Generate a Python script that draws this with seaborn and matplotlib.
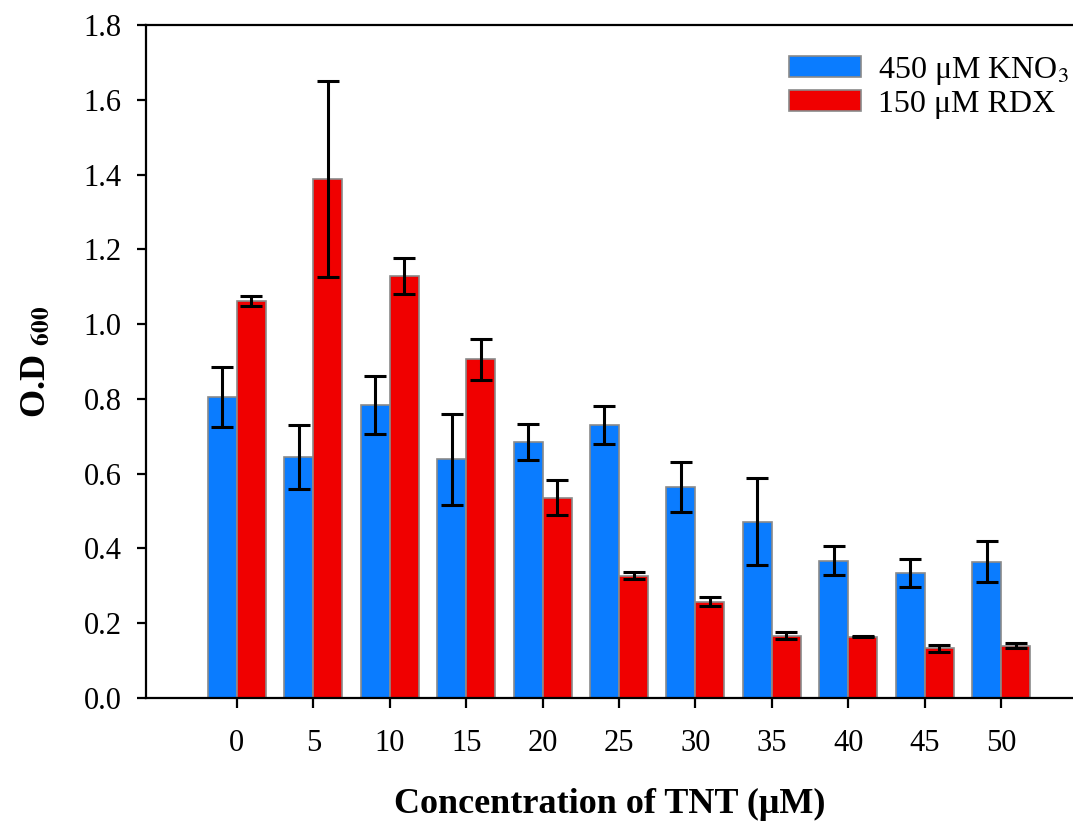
import pandas as pd
import matplotlib.pyplot as plt
import seaborn as sns

# --- data ---
tnt_conc = ["0", "5", "10", "15", "20", "25", "30", "35", "40", "45", "50"]
kno3_od = [0.806, 0.645, 0.783, 0.638, 0.684, 0.730, 0.565, 0.472, 0.367, 0.335, 0.365]
kno3_err = [0.080, 0.086, 0.077, 0.122, 0.048, 0.051, 0.067, 0.116, 0.039, 0.037, 0.056]
rdx_od = [1.062, 1.387, 1.129, 0.906, 0.536, 0.327, 0.258, 0.167, 0.164, 0.133, 0.140]
rdx_err = [0.013, 0.262, 0.048, 0.055, 0.047, 0.010, 0.012, 0.009, 0.002, 0.009, 0.006]

LABEL_KNO3 = "450 μM KNO$_3$"
LABEL_RDX = "150 μM RDX"
COLORS = {LABEL_KNO3: "#0A7CFF", LABEL_RDX: "#F00000"}

df = pd.concat([
    pd.DataFrame({"conc": tnt_conc, "od": kno3_od, "err": kno3_err, "group": LABEL_KNO3}),
    pd.DataFrame({"conc": tnt_conc, "od": rdx_od, "err": rdx_err, "group": LABEL_RDX}),
])

sns.set_style("ticks")
plt.rcParams["font.family"] = ["Liberation Serif", "DejaVu Serif"]
plt.rcParams["mathtext.fontset"] = "stix"
for key in ["text.color", "axes.labelcolor", "xtick.color", "ytick.color", "axes.edgecolor"]:
    plt.rcParams[key] = "black"

fig = plt.figure(figsize=(10.73, 8.21), dpi=100)
ax = fig.add_axes([0.136, 0.1498, 0.864, 0.8197])

sns.barplot(data=df, x="conc", y="od", hue="group", order=tnt_conc,
            hue_order=[LABEL_KNO3, LABEL_RDX], palette=COLORS,
            width=0.76, errorbar=None, edgecolor="#8a8a8a", linewidth=1.2,
            saturation=1, ax=ax)

# error bars at the centre of each drawn bar
for container, (name, sub) in zip(ax.containers, df.groupby("group", sort=False)):
    xs = [p.get_x() + p.get_width() / 2 for p in container]
    ax.errorbar(xs, sub["od"].values, yerr=sub["err"].values, fmt="none",
                ecolor="black", elinewidth=2.2, capsize=8, capthick=2.2, zorder=5)

ax.set_ylim(0, 1.8)
ax.set_xlim(-1.19, 10.94)
ax.set_yticks([0.0, 0.2, 0.4, 0.6, 0.8, 1.0, 1.2, 1.4, 1.6, 1.8])
ax.set_yticklabels([f"{v:.1f}" for v in ax.get_yticks()])

ax.spines["right"].set_visible(False)
for side in ["left", "bottom", "top"]:
    ax.spines[side].set_linewidth(1.6)

ax.tick_params(axis="y", direction="out", length=6.5, width=1.6, labelsize=22, pad=11)
ax.tick_params(axis="x", direction="out", length=7, width=1.6, labelsize=22, pad=15)

ax.set_xlabel("Concentration of TNT (μM)", fontsize=26, fontweight="bold", labelpad=22)
ax.set_ylabel(r"O.D $_{\mathbf{600}}$", fontsize=26, fontweight="bold", labelpad=22)

leg = ax.legend(loc="upper right", bbox_to_anchor=(1.01, 0.975), frameon=False,
                fontsize=23, handlelength=2.25, handleheight=0.6,
                handletextpad=0.55, labelspacing=0.1, borderaxespad=0.0)

plt.savefig("out.png", dpi=100)
